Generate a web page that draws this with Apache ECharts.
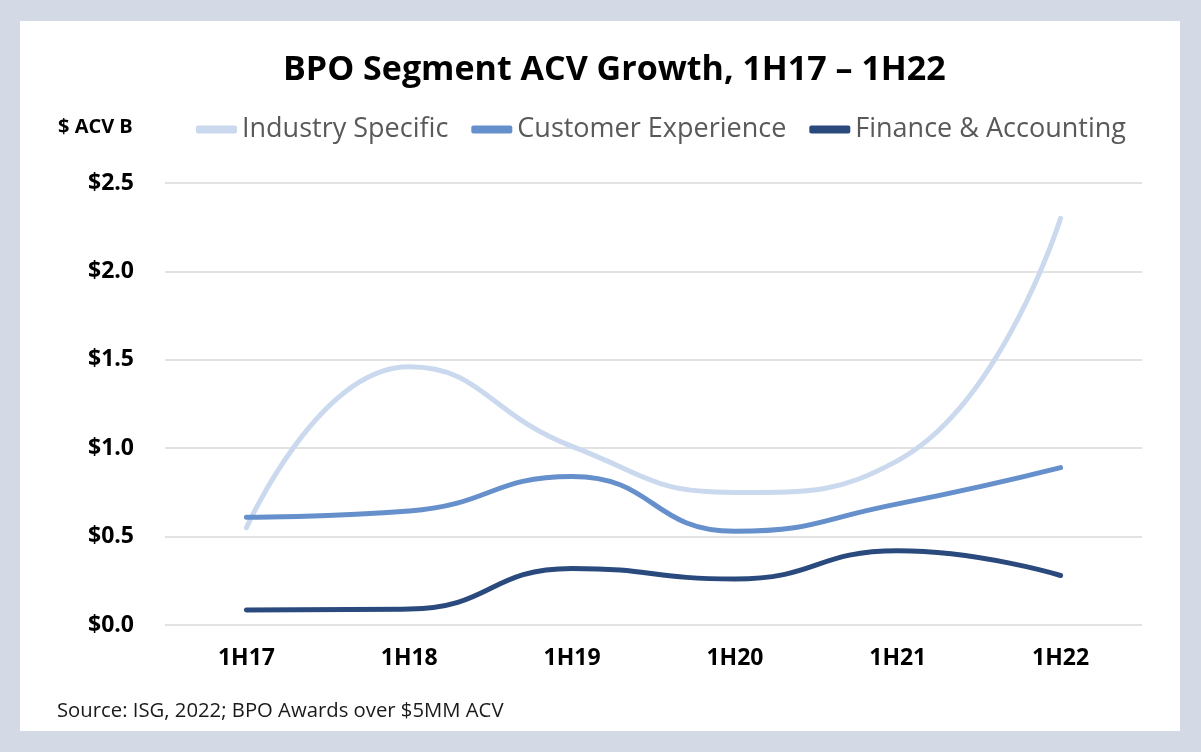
<!DOCTYPE html>
<html>
<head>
<meta charset="utf-8">
<script src="https://cdn.jsdelivr.net/npm/echarts@6/dist/echarts.min.js"></script>
<style>
html,body{margin:0;padding:0;background:#d3d9e5;}
#c{width:1201px;height:752px;}
</style>
</head>
<body>
<div id="c"></div>
<script>
const categories = ['1H17','1H18','1H19','1H20','1H21','1H22'];
const industrySpecific = [0.55, 1.46, 1.01, 0.75, 0.93, 2.30];
const customerExperience = [0.61, 0.645, 0.84, 0.53, 0.685, 0.89];
const financeAccounting = [0.085, 0.09, 0.32, 0.26, 0.42, 0.28];
const seriesNames = ['Industry Specific','Customer Experience','Finance & Accounting'];
const colors = ['#cad9ee','#6690cc','#2a4a7e'];

const chart = echarts.init(document.getElementById('c'));
const FONT = '"Open Sans", "Noto Sans", sans-serif';
function mkSeries(name, data, color){
  return {
    name, type:'line', data, smooth:0.5, showSymbol:false, symbol:'none',
    lineStyle:{width:5, color, cap:'round', join:'round'},
    itemStyle:{color}
  };
}
chart.setOption({
  backgroundColor:'#d3d9e5',
  animation:false,
  textStyle:{fontFamily:FONT},
  graphic:[
    {type:'rect', z:-10, shape:{x:20,y:21,width:1160,height:710}, style:{fill:'#ffffff'}},
    {type:'text', left:58, top:117, style:{text:'$ ACV B', font:'bold 20px '+FONT, fill:'#000'}},
    {type:'text', left:57, top:701, style:{text:'Source: ISG, 2022; BPO Awards over $5MM ACV', font:'20.3px '+FONT, fill:'#1a1a1a'}}
  ],
  title:{
    text:'BPO Segment ACV Growth, 1H17 \u2013 1H22',
    left:278, top:48,
    textStyle:{fontFamily:FONT, fontSize:34, fontWeight:'bold', color:'#000'}
  },
  legend:{
    left:191, top:111,
    itemWidth:41, itemHeight:8, itemGap:23,
    icon:'roundRect',
    textStyle:{fontFamily:FONT, fontSize:27, color:'#595959'},
    data:seriesNames
  },
  grid:{left:165, right:59, top:183, bottom:127, containLabel:false},
  xAxis:{
    type:'category', data:categories, boundaryGap:true,
    axisLine:{show:false}, axisTick:{show:false},
    axisLabel:{margin:22, color:'#000', fontFamily:FONT, fontSize:23, fontWeight:'bold'}
  },
  yAxis:{
    type:'value', min:0, max:2.5, interval:0.5,
    axisLine:{show:false}, axisTick:{show:false},
    splitLine:{lineStyle:{color:'#d9d9d9', width:1.5}},
    axisLabel:{margin:31, color:'#000', fontFamily:FONT, fontSize:23, fontWeight:'bold',
      formatter:v=>'$'+v.toFixed(1)}
  },
  series:[
    mkSeries(seriesNames[0], industrySpecific, colors[0]),
    mkSeries(seriesNames[1], customerExperience, colors[1]),
    mkSeries(seriesNames[2], financeAccounting, colors[2])
  ]
});
</script>
</body>
</html>
